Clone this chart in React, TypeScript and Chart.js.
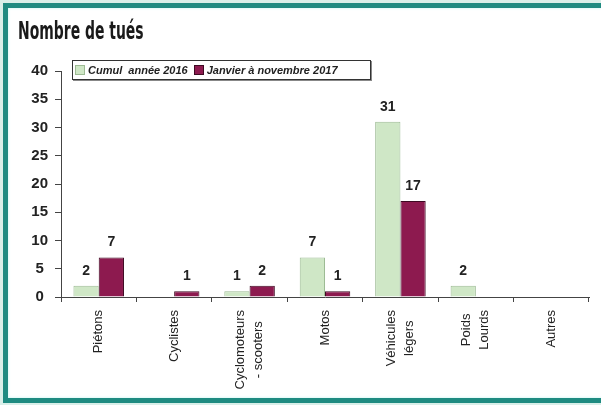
import React, { useEffect, useRef } from "react";
import { Chart, registerables } from "chart.js";

Chart.register(...registerables);

const categories: (string | string[])[] = [
  "Piétons",
  "Cyclistes",
  ["Cyclomoteurs", "- scooters"],
  "Motos",
  ["Véhicules", "légers"],
  ["Poids", "Lourds"],
  "Autres",
];
const series2016 = [2, 0, 1, 7, 31, 2, 0];
const series2017 = [7, 1, 2, 1, 17, 0, 0];
const seriesNames = ["Cumul  année 2016", "Janvier à novembre 2017"];
const yTicks = { min: 0, max: 40, step: 5 };
const titleText = "Nombre de tués";

const GREEN = "#cfe7c6";
const GREEN_BORDER = "#9dbb94";
const PURPLE = "#8d1a4f";
const PURPLE_BORDER = "#3e0a22";
const AXIS = "#444";
const FONT = '"Liberation Sans", Arial, sans-serif';

const valueLabels = {
  id: "valueLabels",
  afterDatasetsDraw(chart: any) {
    const ctx = chart.ctx;
    ctx.save();
    ctx.font = `bold 14px ${FONT}`;
    ctx.fillStyle = "#222";
    ctx.textAlign = "center";
    ctx.textBaseline = "alphabetic";
    chart.data.datasets.forEach((ds: any, di: number) => {
      const meta = chart.getDatasetMeta(di);
      meta.data.forEach((bar: any, i: number) => {
        const v = ds.data[i];
        if (!v) return;
        ctx.fillText(String(v), bar.x, bar.y - 11);
      });
    });
    ctx.restore();
  },
};

const xLabels = {
  id: "xLabels",
  afterDraw(chart: any) {
    const ctx = chart.ctx;
    const xs = chart.scales.x;
    ctx.save();
    ctx.font = `13px ${FONT}`;
    ctx.fillStyle = "#222";
    categories.forEach((lab, i) => {
      const lines = Array.isArray(lab) ? lab : [lab];
      const x = xs.getPixelForValue(i);
      const w = Math.max(...lines.map((l) => ctx.measureText(l).width));
      const cy = xs.top + 13 + w / 2;
      lines.forEach((l, j) => {
        ctx.save();
        ctx.translate(x + (j - (lines.length - 1) / 2) * 18, cy);
        ctx.rotate(-Math.PI / 2);
        ctx.textAlign = "center";
        ctx.textBaseline = "middle";
        ctx.fillText(l, 0, 0);
        ctx.restore();
      });
    });
    ctx.restore();
  },
};

export default function App() {
  const ref = useRef<HTMLCanvasElement | null>(null);
  useEffect(() => {
    if (!ref.current) return;
    const chart = new Chart(ref.current, {
      type: "bar",
      data: {
        labels: categories.map((c) => (Array.isArray(c) ? c.join(" ") : c)),
        datasets: [
          {
            label: seriesNames[0],
            data: series2016,
            backgroundColor: GREEN,
            borderColor: GREEN_BORDER,
            borderWidth: 1,
            categoryPercentage: 0.67,
            barPercentage: 1,
          },
          {
            label: seriesNames[1],
            data: series2017,
            backgroundColor: PURPLE,
            borderColor: PURPLE_BORDER,
            borderWidth: 1,
            categoryPercentage: 0.67,
            barPercentage: 1,
          },
        ],
      },
      options: {
        responsive: false,
        animation: false,
        layout: { padding: { top: 71, right: 12, left: 0, bottom: 0 } },
        plugins: {
          legend: { display: false },
          title: { display: false },
          tooltip: { enabled: false },
        },
        scales: {
          x: {
            grid: {
              offset: true,
              drawOnChartArea: false,
              drawTicks: true,
              tickLength: 5,
              color: AXIS,
            },
            border: { color: AXIS, width: 1 },
            ticks: { display: false },
            afterFit(scale: any) {
              scale.height = 108;
            },
          },
          y: {
            min: yTicks.min,
            max: yTicks.max,
            ticks: {
              stepSize: yTicks.step,
              color: "#222",
              font: { family: FONT, size: 15, weight: "bold" },
              padding: 7,
              crossAlign: "center",
            },
            grid: {
              drawOnChartArea: false,
              drawTicks: true,
              tickLength: 6,
              color: AXIS,
            },
            border: { color: AXIS, width: 1 },
            afterFit(scale: any) {
              scale.width = 61;
            },
          },
        },
      },
      plugins: [valueLabels, xLabels],
    } as any);
    return () => chart.destroy();
  }, []);

  const legendItem = (color: string, border: string, text: string) => (
    <span style={{ display: "inline-flex", alignItems: "center", marginRight: 6 }}>
      <span
        style={{
          display: "inline-block",
          width: 8,
          height: 8,
          background: color,
          border: `1px solid ${border}`,
          marginRight: 3,
        }}
      />
      <span style={{ whiteSpace: "pre" }}>{text}</span>
    </span>
  );

  return (
    <div
      style={{
        position: "fixed",
        left: 0,
        top: 0,
        width: 601,
        height: 405,
        overflow: "hidden",
        background: "#d9efe9",
      }}
    >
      <div
        style={{
          position: "absolute",
          left: 3,
          top: 3,
          width: 640,
          height: 390,
          border: "5px solid #1f8b81",
          background: "#ffffff",
          boxShadow: "inset 0 0 3px #bff3f0",
        }}
      />
      <canvas
        ref={ref}
        width={601}
        height={405}
        style={{ position: "absolute", left: 0, top: 0, width: 601, height: 405 }}
      />
      <div
        style={{
          position: "absolute",
          left: 18,
          top: 16,
          fontFamily: '"DejaVu Sans Condensed", "DejaVu Sans", "Liberation Sans", Arial, sans-serif',
          fontWeight: "bold",
          fontSize: 25,
          color: "#1a1a1a",
          transform: "scaleX(0.62)",
          transformOrigin: "left top",
          whiteSpace: "nowrap",
        }}
      >
        {titleText}
      </div>
      <div
        style={{
          position: "absolute",
          left: 72,
          top: 60,
          width: 299,
          height: 20,
          border: "1px solid #333",
          background: "#fff",
          boxShadow: "1px 1px 0 #888",
          fontFamily: FONT,
          fontStyle: "italic",
          fontWeight: "bold",
          fontSize: 11,
          color: "#222",
          display: "flex",
          alignItems: "center",
          paddingLeft: 2,
          boxSizing: "border-box",
          whiteSpace: "nowrap",
        }}
      >
        {legendItem(GREEN, GREEN_BORDER, seriesNames[0])}
        {legendItem(PURPLE, PURPLE_BORDER, seriesNames[1])}
      </div>
    </div>
  );
}
